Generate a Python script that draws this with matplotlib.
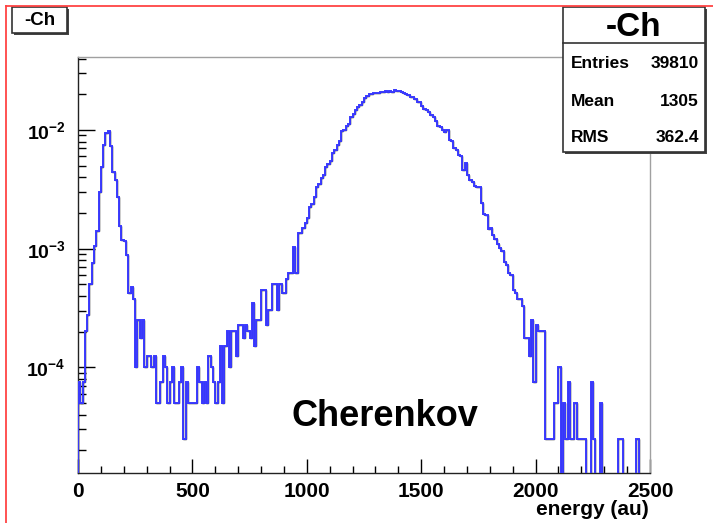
import numpy as np
import matplotlib
matplotlib.use("Agg")
import matplotlib.pyplot as plt
from matplotlib.ticker import LogLocator, MultipleLocator, FuncFormatter, NullFormatter
from matplotlib.patches import Rectangle

plt.rcParams['font.family'] = ['Liberation Sans', 'DejaVu Sans']
plt.rcParams['font.weight'] = 'bold'
plt.rcParams['mathtext.fontset'] = 'custom'
plt.rcParams['mathtext.rm'] = 'Liberation Sans:bold'
plt.rcParams['mathtext.it'] = 'Liberation Sans:bold'
plt.rcParams['mathtext.bf'] = 'Liberation Sans:bold'

# ---------------- data ----------------
hist_title = "-Ch"
x_label = "energy (au)"
annotation = "Cherenkov"
entries = 39810
stat_names = ["Entries", "Mean", "RMS"]
stat_values = ["39810", "1305", "362.4"]
x_min, x_max, n_bins = 0, 2500, 250
x_ticks = [0, 500, 1000, 1500, 2000, 2500]

# counts per bin (bin width 10), histogram drawn normalised to entries
counts = [
    # 0-33
    3, 2, 3, 8, 11, 20, 30, 42, 56, 120, 195, 300, 375, 390, 290, 175, 150,
    108, 62, 47, 46, 35, 17, 19, 15, 4, 10, 7, 10, 4, 5, 5, 4, 5,
    # 34-91
    2, 2, 3, 5, 4, 2, 3, 4, 2, 2, 3, 4, 1, 3, 2, 2, 2, 2, 4, 3,
    2, 3, 2, 5, 4, 3, 2, 3, 6, 2, 6, 8, 4, 8, 8, 5, 9, 9, 7, 9,
    8, 7, 14, 6, 10, 10, 18, 18, 9, 12, 12, 20, 20, 12, 20, 17, 17, 22,
    # 92-127
    25, 25, 41, 25, 54, 54, 60, 65, 72, 89, 95, 108, 132, 140, 157, 166,
    195, 205, 220, 257, 270, 300, 320, 390, 400, 430, 447, 514, 545, 590,
    620, 650, 680, 740, 770, 800,
    # 128-145
    800, 815, 820, 810, 835, 830, 845, 825, 850, 840, 860, 845, 850, 830,
    810, 805, 780, 760,
    # 146-203
    755, 720, 690, 680, 640, 600, 590, 560, 530, 515, 470, 430, 420, 395,
    380, 395, 330, 320, 280, 270, 245, 240, 185, 210, 165, 150, 145, 135,
    132, 132, 96, 78, 76, 58, 60, 52, 48, 44, 40, 38, 31, 29, 25, 24, 18,
    17, 15, 15, 13, 7, 7, 5, 10, 3, 9, 8, 8, 8,
    # 204-249
    1, 1, 1, 1, 2, 2, 4, 0, 2, 1,
    3, 1, 1, 2, 1, 1, 1, 1, 0, 0,
    3, 1, 0, 0, 2, 0, 0, 0, 0, 0,
    0, 0, 1, 1, 0, 0, 0, 0, 0, 0,
    1, 0, 0, 0, 0, 0,
]

# ---------------- figure ----------------
W, H = 713, 523
fig = plt.figure(figsize=(W / 100, H / 100), dpi=100)
fig.patch.set_facecolor('white')

ax = fig.add_axes([78 / W, 1 - 472.5 / H, (650 - 78) / W, (472.5 - 57.3) / H])

edges = np.linspace(x_min, x_max, n_bins + 1)
vals = np.array(counts, dtype=float) / entries
vals_plot = np.where(vals > 0, vals, 1e-12)

ax.set_yscale('log')
ax.stairs(vals_plot, edges, baseline=1e-12, color='black', lw=1.0, zorder=2)
ax.stairs(vals_plot, edges, baseline=1e-12, color='#3a3aff', lw=1.4, zorder=3)

ax.set_xlim(x_min, x_max)
ax.set_ylim(1.30e-5, 4.1e-2)

ax.set_xticks(x_ticks)
ax.xaxis.set_minor_locator(MultipleLocator(100))
ax.yaxis.set_major_locator(LogLocator(base=10, numticks=10))
ax.yaxis.set_minor_locator(LogLocator(base=10, subs=np.arange(2, 10), numticks=20))
ax.yaxis.set_minor_formatter(NullFormatter())
ax.yaxis.set_major_formatter(FuncFormatter(
    lambda v, p: r'$10^{%d}$' % int(round(np.log10(v)))))

ax.tick_params(axis='x', which='major', direction='in', length=10, width=1.0,
               labelsize=15, pad=7, top=False)
ax.tick_params(axis='x', which='minor', direction='in', length=5, width=1.0, top=False)
ax.tick_params(axis='y', which='major', direction='in', length=12, width=1.0,
               labelsize=14, pad=9, right=False)
ax.tick_params(axis='y', which='minor', direction='in', length=6, width=1.0, right=False)
for lab in ax.get_xticklabels():
    lab.set_fontweight('bold')

ax.spines['left'].set_color('#222222')
ax.spines['bottom'].set_color('#222222')
ax.spines['top'].set_color('#a0a0a0')
ax.spines['right'].set_color('#a0a0a0')
for s in ax.spines.values():
    s.set_linewidth(1.0)

ax.text(0.998, -0.09, x_label, transform=ax.transAxes, ha='right', va='center',
        fontsize=15, fontweight='bold')

# ---------------- overlay (boxes, border, annotation) ----------------
ov = fig.add_axes([0, 0, 1, 1], zorder=10)
ov.set_xlim(0, W)
ov.set_ylim(H, 0)
ov.axis('off')
ov.patch.set_alpha(0)

# red canvas border
ov.plot([5.5, 5.5], [H, 5.5], color='#ff4444', lw=1.3)
ov.plot([5.5, W], [5.5, 5.5], color='#ff4444', lw=1.3)

# title box
ov.add_patch(Rectangle((14, 9), 55, 26, facecolor='#444444', edgecolor='none'))
ov.add_patch(Rectangle((12, 7), 55, 26, facecolor='white', edgecolor='#333333', lw=1.2))
ov.text(39.5, 20.5, hist_title, ha='center', va='center', fontsize=13.5, fontweight='bold')

# stats box
bx0, by0, bx1, by1 = 563, 7, 705, 152
ov.add_patch(Rectangle((bx0 + 2, by0 + 2), bx1 - bx0, by1 - by0,
                       facecolor='#444444', edgecolor='none'))
ov.add_patch(Rectangle((bx0, by0), bx1 - bx0, by1 - by0,
                       facecolor='white', edgecolor='#333333', lw=1.2))
ov.plot([bx0, bx1], [43, 43], color='#333333', lw=1.2)
ov.text((bx0 + bx1) / 2, 27, hist_title, ha='center', va='center',
        fontsize=24, fontweight='bold')
for i, (nm, vv) in enumerate(zip(stat_names, stat_values)):
    yy = 64 + i * 37
    ov.text(bx0 + 8, yy, nm, ha='left', va='center', fontsize=12.5, fontweight='bold')
    ov.text(bx1 - 6, yy, vv, ha='right', va='center', fontsize=12.5, fontweight='bold')

ov.text(385, 416, annotation, ha='center', va='center', fontsize=26, fontweight='bold')

fig.savefig('out.png', dpi=100, facecolor='white')
